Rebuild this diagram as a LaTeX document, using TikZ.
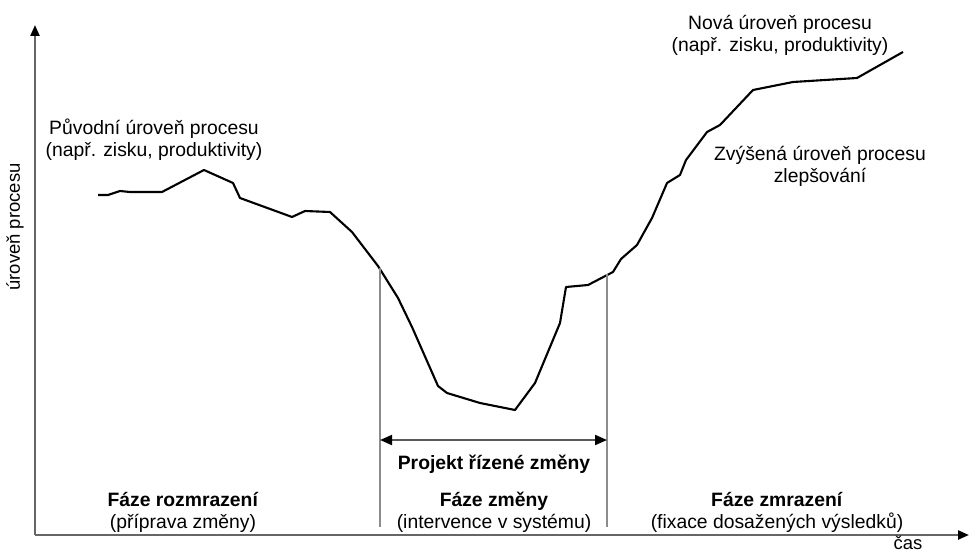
\documentclass[tikz,border=0pt]{standalone}
\usepackage{fontspec}
\setmainfont{Liberation Sans}
\usetikzlibrary{arrows.meta}

\begin{document}
\begin{tikzpicture}[
  x=0.2mm, y=-0.2mm,
  font=\fontsize{11}{12.5}\selectfont,
  every node/.style={align=center, inner sep=0pt},
  lbl/.style    ={font=\fontsize{11}{12.5}\selectfont},
  axlbl/.style  ={font=\fontsize{10.5}{12}\selectfont},
  axis/.style   ={line width=1.3pt, draw=black!60, -{Triangle[length=2.2mm, width=1.8mm, color=black]}},
  bound/.style  ={line width=0.7pt, draw=black!45},
  curve/.style  ={line width=1.2pt, line join=round},
  span/.style   ={{Triangle[length=2.4mm, width=2mm, color=black]}-{Triangle[length=2.4mm, width=2mm, color=black]},
                  line width=1.1pt, draw=black!65},
]
\useasboundingbox (0,0) rectangle (970,551);

% axes
\coordinate (origin) at (35,535);
\coordinate (ytop)   at (35,25);
\coordinate (xend)   at (969,535);
\draw[axis] (origin) -- (ytop);
\draw[axis] (origin) -- (xend);
\node[axlbl, rotate=90] (ylabel) at (15,227) {úroveň procesu};
\node[axlbl] (xlabel) at (908,543) {čas};

% process curve
\draw[curve] plot coordinates {
  (98,195) (108,195) (120,191) (130,192) (162,192) (204,170) (233,183)
  (240,198) (292,217) (305,211) (330,212) (352,232) (378,266) (398,298)
  (412,327) (438,386) (447,393) (480,403) (515,410) (535,383) (560,323)
  (566,287) (588,285) (613,272) (621,259) (637,245) (652,218) (667,183)
  (680,175) (686,160) (707,132) (720,125) (753,90) (793,82) (857,78) (903,52)
};

% phase boundaries
\coordinate (l1) at (380,268);
\coordinate (l2) at (380,527);
\coordinate (r1) at (607,274);
\coordinate (r2) at (607,527);
\draw[bound] (l1) -- (l2);
\draw[bound] (r1) -- (r2);

\coordinate (sl) at (380,440);
\coordinate (sr) at (607,440);
\draw[span] (sl) -- (sr);
\node[lbl] (proj) at (494,464) {\textbf{Projekt řízené změny}};

% labels
\node[lbl] (orig) at (154,140) {Původní úroveň procesu\\(např. zisku, produktivity)};
\node[lbl] (new)  at (780,35)  {Nová úroveň procesu\\(např. zisku, produktivity)};
\node[lbl] (impr) at (820,166) {Zvýšená úroveň procesu\\zlepšování};

\node[lbl] (unfreeze) at (183,512) {\textbf{Fáze rozmrazení}\\(příprava změny)};
\node[lbl] (change)   at (494,512) {\textbf{Fáze změny}\\(intervence v systému)};
\node[lbl] (refreeze) at (777,512) {\textbf{Fáze zmrazení}\\(fixace dosažených výsledků)};
\end{tikzpicture}
\end{document}
